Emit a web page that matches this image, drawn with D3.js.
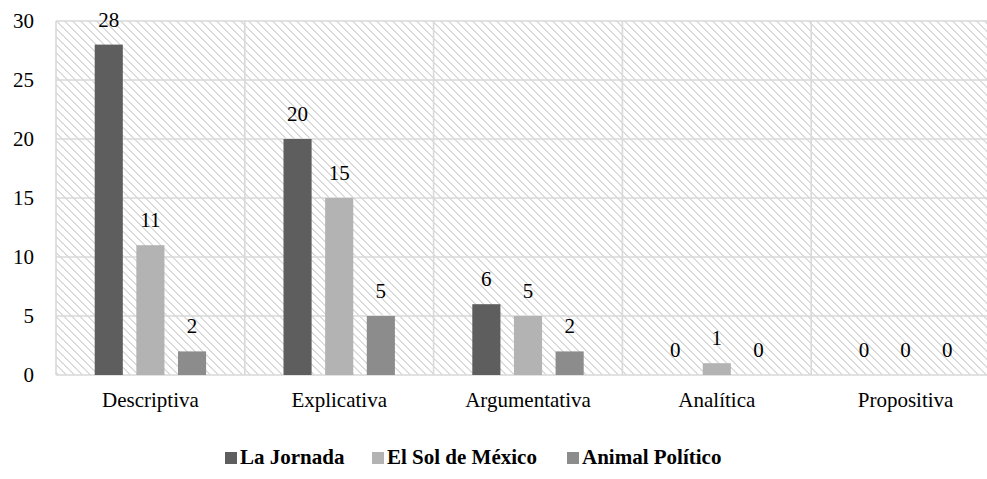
<!DOCTYPE html>
<html>
<head>
<meta charset="utf-8">
<script src="https://cdn.jsdelivr.net/npm/d3@7"></script>
<style>
  html, body { margin: 0; padding: 0; background: #fff; }
  svg { display: block; }
</style>
</head>
<body>
<svg id="chart" width="987" height="479" style="font-family: 'Liberation Serif', 'Times New Roman', Times, serif;"></svg>
<script>
const categories = ["Descriptiva", "Explicativa", "Argumentativa", "Analítica", "Propositiva"];
const seriesNames = ["La Jornada", "El Sol de México", "Animal Político"];
const laJornada = [28, 20, 6, 0, 0];
const elSol = [11, 15, 5, 1, 0];
const animalPolitico = [2, 5, 2, 0, 0];
const yTicks = [0, 5, 10, 15, 20, 25, 30];
const seriesColors = ["#5e5e5e", "#b3b3b3", "#8c8c8c"];

const seriesValues = [laJornada, elSol, animalPolitico];
const FONT = "'Liberation Serif', 'Times New Roman', Times, serif";

const svg = d3.select("#chart");
const plot = { left: 56, right: 1000, top: 21, bottom: 375 };

// hatch pattern (wide downward diagonal)
const defs = svg.append("defs");
const pat = defs.append("pattern")
  .attr("id", "hatch").attr("patternUnits", "userSpaceOnUse")
  .attr("width", 8).attr("height", 8)
  .attr("x", plot.left).attr("y", plot.top);
pat.append("rect").attr("width", 8).attr("height", 8).attr("fill", "#ffffff");
for (let r = 0; r < 8; r++) {
  for (let k = 0; k < 2; k++) {
    pat.append("rect").attr("x", (r + k) % 8).attr("y", r)
      .attr("width", 1).attr("height", 1).attr("fill", "#dcdcdc");
  }
}

const x = d3.scaleBand().domain(categories).range([plot.left, plot.right]).padding(0);
const y = d3.scaleLinear().domain([0, 30]).range([plot.bottom, plot.top]);
const bw = x.bandwidth();
const groupW = bw * 0.59;
const xs = d3.scaleBand().domain(seriesNames)
  .range([(bw - groupW) / 2, (bw + groupW) / 2])
  .paddingInner(0.325).paddingOuter(0);

// background
svg.append("rect")
  .attr("x", plot.left).attr("y", plot.top)
  .attr("width", plot.right - plot.left).attr("height", plot.bottom - plot.top)
  .attr("fill", "url(#hatch)").attr("shape-rendering", "crispEdges");

// gridlines
const grid = svg.append("g").attr("stroke", "#d9d9d9").attr("stroke-width", 1.6);
grid.selectAll("line.h").data(yTicks).join("line")
  .attr("x1", plot.left).attr("x2", plot.right)
  .attr("y1", d => y(d)).attr("y2", d => y(d));
grid.selectAll("line.v").data(categories).join("line")
  .attr("x1", d => x(d)).attr("x2", d => x(d))
  .attr("y1", plot.top).attr("y2", plot.bottom);

// y tick labels
svg.append("g").selectAll("text").data(yTicks).join("text")
  .attr("x", 34).attr("y", d => y(d)).attr("dy", "0.35em")
  .attr("text-anchor", "end").attr("font-size", 21).attr("font-family", FONT)
  .text(d => d);

// bars
const flat = [];
categories.forEach((c, i) => {
  seriesNames.forEach((s, j) => flat.push({ c, s, j, v: seriesValues[j][i] }));
});
svg.append("g").selectAll("rect").data(flat).join("rect")
  .attr("x", d => x(d.c) + xs(d.s))
  .attr("width", xs.bandwidth())
  .attr("y", d => y(d.v))
  .attr("height", d => y(0) - y(d.v))
  .attr("fill", d => seriesColors[d.j]);

// data labels
svg.append("g").selectAll("text").data(flat).join("text")
  .attr("x", d => x(d.c) + xs(d.s) + xs.bandwidth() / 2)
  .attr("y", d => y(d.v) - 18)
  .attr("text-anchor", "middle").attr("font-size", 21).attr("font-family", FONT)
  .text(d => d.v);

// category labels
svg.append("g").selectAll("text").data(categories).join("text")
  .attr("x", d => x(d) + bw / 2).attr("y", 407)
  .attr("text-anchor", "middle").attr("font-size", 21).attr("font-family", FONT)
  .text(d => d);

// legend
const legendX = [225, 372, 567];
const lg = svg.append("g");
seriesNames.forEach((s, j) => {
  lg.append("rect").attr("x", legendX[j]).attr("y", 452)
    .attr("width", 12).attr("height", 12).attr("fill", seriesColors[j]);
  lg.append("text").attr("x", legendX[j] + 15).attr("y", 464)
    .attr("font-size", 21).attr("font-weight", "bold").attr("font-family", FONT)
    .text(s);
});
</script>
</body>
</html>
